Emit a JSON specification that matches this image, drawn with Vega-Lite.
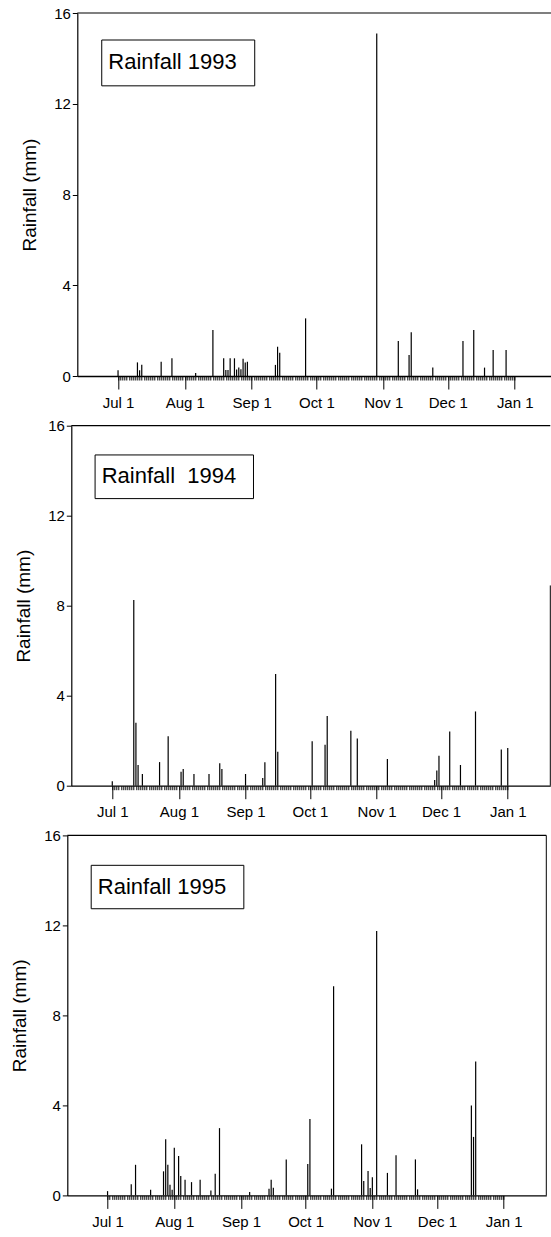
{
  "$schema": "https://vega.github.io/schema/vega-lite/v6.json",
  "padding": {"left": 9.3, "top": 6, "right": 0, "bottom": 0},
  "spacing": 8.7,
  "config": {
    "font": "Liberation Sans",
    "view": {"stroke": null},
    "axis": {
      "grid": false,
      "domainColor": "black",
      "tickColor": "black",
      "labelColor": "black",
      "titleColor": "black",
      "labelFont": "Liberation Sans",
      "titleFont": "Liberation Sans",
      "labelFontSize": 15,
      "titleFontSize": 19,
      "titleFontWeight": "normal",
      "labelFlush": false,
      "labelOverlap": false
    }
  },
  "vconcat": [
    {
      "spacing": 0,
      "hconcat": [
        {"width": 10.3, "height": 1, "data": {"values": []}, "mark": "point", "view": {"stroke": null}},
        {
          "width": 476,
          "height": 363,
          "data": {"values": [
            {"date": "1993/07/01", "rain": 0.25},
            {"date": "1993/07/10", "rain": 0.6},
            {"date": "1993/07/11", "rain": 0.25},
            {"date": "1993/07/12", "rain": 0.5},
            {"date": "1993/07/21", "rain": 0.63},
            {"date": "1993/07/26", "rain": 0.78},
            {"date": "1993/08/06", "rain": 0.13},
            {"date": "1993/08/14", "rain": 2.03},
            {"date": "1993/08/19", "rain": 0.78},
            {"date": "1993/08/20", "rain": 0.26},
            {"date": "1993/08/21", "rain": 0.26},
            {"date": "1993/08/22", "rain": 0.78},
            {"date": "1993/08/24", "rain": 0.78},
            {"date": "1993/08/25", "rain": 0.29},
            {"date": "1993/08/26", "rain": 0.37},
            {"date": "1993/08/27", "rain": 0.3},
            {"date": "1993/08/28", "rain": 0.76},
            {"date": "1993/08/29", "rain": 0.59},
            {"date": "1993/08/30", "rain": 0.63},
            {"date": "1993/09/12", "rain": 0.49},
            {"date": "1993/09/13", "rain": 1.29},
            {"date": "1993/09/14", "rain": 1.03},
            {"date": "1993/09/26", "rain": 2.54},
            {"date": "1993/10/29", "rain": 15.1},
            {"date": "1993/11/08", "rain": 1.54},
            {"date": "1993/11/13", "rain": 0.93},
            {"date": "1993/11/14", "rain": 1.93},
            {"date": "1993/11/24", "rain": 0.37},
            {"date": "1993/12/08", "rain": 1.54},
            {"date": "1993/12/13", "rain": 2.03},
            {"date": "1993/12/18", "rain": 0.37},
            {"date": "1993/12/22", "rain": 1.15},
            {"date": "1993/12/28", "rain": 1.15}
          ]},
          "layer": [
            {
              "mark": {"type": "rule", "color": "black", "strokeWidth": 1.2},
              "encoding": {
                "x": {
                  "field": "date", "type": "temporal",
                  "scale": {"domain": [{"year": 1993, "month": 6, "date": 12, "hours": 2, "minutes": 24}, {"year": 1994, "month": 1, "date": 18, "hours": 21, "minutes": 36}]},
                  "axis": {
                    "orient": "bottom", "title": null, "format": "%b %-d", "formatType": "time",
                    "values": [
                      {"year": 1993, "month": 7, "date": 1}, {"year": 1993, "month": 8, "date": 1},
                      {"year": 1993, "month": 9, "date": 1}, {"year": 1993, "month": 10, "date": 1},
                      {"year": 1993, "month": 11, "date": 1}, {"year": 1993, "month": 12, "date": 1},
                      {"year": 1994, "month": 1, "date": 1}
                    ],
                    "tickSize": 13, "tickWidth": 1, "labelPadding": 6, "domainWidth": 1.3
                  }
                },
                "y": {
                  "field": "rain", "type": "quantitative",
                  "scale": {"domain": [0, 16], "nice": false},
                  "axis": {"orient": "left", "values": [0, 4, 8, 12, 16], "tickSize": 5, "labelPadding": 2, "title": "Rainfall (mm)", "titleX": -48, "titleBaseline": "middle", "domainWidth": 1.2}
                },
                "y2": {"datum": 0}
              }
            },
            {
              "data": {"values": [{}]},
              "mark": {"type": "rule", "color": "black", "strokeWidth": 1.2},
              "encoding": {"y": {"datum": 16, "type": "quantitative", "axis": null}}
            },
            {
              "data": {"values": [{}]},
              "mark": {"type": "rect", "fill": "white", "stroke": "black", "strokeWidth": 1},
              "encoding": {
                "x": {
                  "datum": {"year": 1993, "month": 6, "date": 23, "hours": 10, "minutes": 34}, "type": "temporal",
                  "axis": {
                    "orient": "bottom", "title": null, "labels": false, "domain": false,
                    "tickCount": {"interval": "day", "step": 1}, "tickSize": 4, "tickWidth": 1,
                    "tickOpacity": {"condition": {"test": "datum.value >= datetime(1993,6,1) && datum.value <= datetime(1994,0,1)", "value": 1}, "value": 0}
                  }
                },
                "x2": {"datum": {"year": 1993, "month": 9, "date": 2, "hours": 9, "minutes": 36}},
                "y": {"datum": 14.81, "type": "quantitative", "axis": null},
                "y2": {"datum": 12.79}
              }
            },
            {
              "data": {"values": [{}]},
              "mark": {"type": "text", "align": "left", "baseline": "middle", "fontSize": 22, "font": "Liberation Sans", "color": "black", "text": "Rainfall 1993"},
              "encoding": {
                "x": {"datum": {"year": 1993, "month": 6, "date": 26, "hours": 12}, "type": "temporal", "axis": null},
                "y": {"datum": 13.83, "type": "quantitative", "axis": null}
              }
            }
          ],
          "resolve": {"axis": {"x": "independent", "y": "independent"}}
        }
      ]
    },
    {
      "spacing": 0,
      "hconcat": [
        {"width": 4.6, "height": 1, "data": {"values": []}, "mark": "point", "view": {"stroke": null}},
        {
          "width": 479,
          "height": 360,
          "data": {"values": [
            {"date": "1994/07/01", "rain": 0.2},
            {"date": "1994/07/11", "rain": 8.25},
            {"date": "1994/07/12", "rain": 2.8},
            {"date": "1994/07/13", "rain": 0.92},
            {"date": "1994/07/15", "rain": 0.52},
            {"date": "1994/07/23", "rain": 1.05},
            {"date": "1994/07/27", "rain": 2.2},
            {"date": "1994/08/02", "rain": 0.62},
            {"date": "1994/08/03", "rain": 0.74},
            {"date": "1994/08/08", "rain": 0.52},
            {"date": "1994/08/15", "rain": 0.52},
            {"date": "1994/08/20", "rain": 1.0},
            {"date": "1994/08/21", "rain": 0.74},
            {"date": "1994/09/01", "rain": 0.52},
            {"date": "1994/09/09", "rain": 0.34},
            {"date": "1994/09/10", "rain": 1.04},
            {"date": "1994/09/15", "rain": 4.96},
            {"date": "1994/09/16", "rain": 1.51},
            {"date": "1994/10/02", "rain": 1.97},
            {"date": "1994/10/08", "rain": 1.82},
            {"date": "1994/10/09", "rain": 3.1},
            {"date": "1994/10/20", "rain": 2.44},
            {"date": "1994/10/23", "rain": 2.1},
            {"date": "1994/11/06", "rain": 1.19},
            {"date": "1994/11/28", "rain": 0.25},
            {"date": "1994/11/29", "rain": 0.67},
            {"date": "1994/11/30", "rain": 1.33},
            {"date": "1994/12/05", "rain": 2.41},
            {"date": "1994/12/10", "rain": 0.92},
            {"date": "1994/12/17", "rain": 3.3},
            {"date": "1994/12/29", "rain": 1.61},
            {"date": "1995/01/01", "rain": 1.67}
          ]},
          "layer": [
            {
              "mark": {"type": "rule", "color": "black", "strokeWidth": 1.2},
              "encoding": {
                "x": {
                  "field": "date", "type": "temporal",
                  "scale": {"domain": [{"year": 1994, "month": 6, "date": 11, "hours": 22, "minutes": 19}, {"year": 1995, "month": 1, "date": 20, "hours": 19, "minutes": 12}]},
                  "axis": {
                    "orient": "bottom", "title": null, "format": "%b %-d", "formatType": "time",
                    "values": [
                      {"year": 1994, "month": 7, "date": 1}, {"year": 1994, "month": 8, "date": 1},
                      {"year": 1994, "month": 9, "date": 1}, {"year": 1994, "month": 10, "date": 1},
                      {"year": 1994, "month": 11, "date": 1}, {"year": 1994, "month": 12, "date": 1},
                      {"year": 1995, "month": 1, "date": 1}
                    ],
                    "tickSize": 13, "tickWidth": 1, "labelPadding": 6, "domainWidth": 1.3
                  }
                },
                "y": {
                  "field": "rain", "type": "quantitative",
                  "scale": {"domain": [0, 16], "nice": false},
                  "axis": {"orient": "left", "values": [0, 4, 8, 12, 16], "tickSize": 5, "labelPadding": 2, "title": "Rainfall (mm)", "titleX": -48, "titleBaseline": "middle", "domainWidth": 1.2}
                },
                "y2": {"datum": 0}
              }
            },
            {
              "data": {"values": [{}]},
              "mark": {"type": "rule", "color": "black", "strokeWidth": 1.2},
              "encoding": {"y": {"datum": 16, "type": "quantitative", "axis": null}}
            },
            {
              "data": {"values": [{}]},
              "mark": {"type": "rule", "color": "black", "strokeWidth": 1},
              "encoding": {
                "x": {"datum": {"year": 1995, "month": 1, "date": 20, "hours": 19, "minutes": 12}, "type": "temporal", "axis": null},
                "y": {"datum": 0, "type": "quantitative", "axis": null},
                "y2": {"datum": 8.9}
              }
            },
            {
              "data": {"values": [{}]},
              "mark": {"type": "rect", "fill": "white", "stroke": "black", "strokeWidth": 1},
              "encoding": {
                "x": {
                  "datum": {"year": 1994, "month": 6, "date": 23}, "type": "temporal",
                  "axis": {
                    "orient": "bottom", "title": null, "labels": false, "domain": false,
                    "tickCount": {"interval": "day", "step": 1}, "tickSize": 4, "tickWidth": 1,
                    "tickOpacity": {"condition": {"test": "datum.value >= datetime(1994,6,1) && datum.value <= datetime(1995,0,1)", "value": 1}, "value": 0}
                  }
                },
                "x2": {"datum": {"year": 1994, "month": 9, "date": 4, "hours": 16, "minutes": 48}},
                "y": {"datum": 14.7, "type": "quantitative", "axis": null},
                "y2": {"datum": 12.76}
              }
            },
            {
              "data": {"values": [{}]},
              "mark": {"type": "text", "align": "left", "baseline": "middle", "fontSize": 22, "font": "Liberation Sans", "color": "black", "text": "Rainfall\u00a0 1994"},
              "encoding": {
                "x": {"datum": {"year": 1994, "month": 6, "date": 26, "hours": 2}, "type": "temporal", "axis": null},
                "y": {"datum": 13.78, "type": "quantitative", "axis": null}
              }
            }
          ],
          "resolve": {"axis": {"x": "independent", "y": "independent"}}
        }
      ]
    },
    {
      "spacing": 0,
      "hconcat": [
        {"width": 1, "height": 1, "data": {"values": []}, "mark": "point", "view": {"stroke": null}},
        {
          "width": 479,
          "height": 360,
          "data": {"values": [
            {"date": "1995/07/01", "rain": 0.19},
            {"date": "1995/07/12", "rain": 0.49},
            {"date": "1995/07/14", "rain": 1.36},
            {"date": "1995/07/21", "rain": 0.25},
            {"date": "1995/07/27", "rain": 1.07},
            {"date": "1995/07/28", "rain": 2.49},
            {"date": "1995/07/29", "rain": 1.36},
            {"date": "1995/07/30", "rain": 0.47},
            {"date": "1995/07/31", "rain": 0.25},
            {"date": "1995/08/01", "rain": 2.12},
            {"date": "1995/08/03", "rain": 1.75},
            {"date": "1995/08/04", "rain": 0.86},
            {"date": "1995/08/06", "rain": 0.7},
            {"date": "1995/08/09", "rain": 0.59},
            {"date": "1995/08/13", "rain": 0.7},
            {"date": "1995/08/18", "rain": 0.22},
            {"date": "1995/08/20", "rain": 0.96},
            {"date": "1995/08/22", "rain": 2.99},
            {"date": "1995/09/05", "rain": 0.15},
            {"date": "1995/09/14", "rain": 0.3},
            {"date": "1995/09/15", "rain": 0.7},
            {"date": "1995/09/16", "rain": 0.34},
            {"date": "1995/09/22", "rain": 1.6},
            {"date": "1995/10/02", "rain": 1.4},
            {"date": "1995/10/03", "rain": 3.4},
            {"date": "1995/10/13", "rain": 0.3},
            {"date": "1995/10/14", "rain": 9.3},
            {"date": "1995/10/27", "rain": 2.27},
            {"date": "1995/10/28", "rain": 0.64},
            {"date": "1995/10/30", "rain": 1.08},
            {"date": "1995/10/31", "rain": 0.33},
            {"date": "1995/11/01", "rain": 0.81},
            {"date": "1995/11/03", "rain": 11.75},
            {"date": "1995/11/08", "rain": 1.0},
            {"date": "1995/11/12", "rain": 1.78},
            {"date": "1995/11/21", "rain": 1.6},
            {"date": "1995/11/22", "rain": 0.27},
            {"date": "1995/12/17", "rain": 4.0},
            {"date": "1995/12/18", "rain": 2.6},
            {"date": "1995/12/19", "rain": 5.95}
          ]},
          "layer": [
            {
              "mark": {"type": "rule", "color": "black", "strokeWidth": 1.2},
              "encoding": {
                "x": {
                  "field": "date", "type": "temporal",
                  "scale": {"domain": [{"year": 1995, "month": 6, "date": 12, "hours": 7, "minutes": 10}, {"year": 1996, "month": 1, "date": 20, "hours": 19, "minutes": 12}]},
                  "axis": {
                    "orient": "bottom", "title": null, "format": "%b %-d", "formatType": "time",
                    "values": [
                      {"year": 1995, "month": 7, "date": 1}, {"year": 1995, "month": 8, "date": 1},
                      {"year": 1995, "month": 9, "date": 1}, {"year": 1995, "month": 10, "date": 1},
                      {"year": 1995, "month": 11, "date": 1}, {"year": 1995, "month": 12, "date": 1},
                      {"year": 1996, "month": 1, "date": 1}
                    ],
                    "tickSize": 13, "tickWidth": 1, "labelPadding": 6, "domainWidth": 1.3
                  }
                },
                "y": {
                  "field": "rain", "type": "quantitative",
                  "scale": {"domain": [0, 16], "nice": false},
                  "axis": {"orient": "left", "values": [0, 4, 8, 12, 16], "tickSize": 5, "labelPadding": 2, "title": "Rainfall (mm)", "titleX": -48, "titleBaseline": "middle", "domainWidth": 1.2}
                },
                "y2": {"datum": 0}
              }
            },
            {
              "data": {"values": [{}]},
              "mark": {"type": "rule", "color": "black", "strokeWidth": 1.2},
              "encoding": {"y": {"datum": 16, "type": "quantitative", "axis": null}}
            },
            {
              "data": {"values": [{}]},
              "mark": {"type": "rule", "color": "black", "strokeWidth": 1},
              "encoding": {
                "x": {"datum": {"year": 1996, "month": 1, "date": 20, "hours": 19, "minutes": 12}, "type": "temporal", "axis": null},
                "y": {"datum": 0, "type": "quantitative", "axis": null},
                "y2": {"datum": 16}
              }
            },
            {
              "data": {"values": [{}]},
              "mark": {"type": "rect", "fill": "white", "stroke": "black", "strokeWidth": 1},
              "encoding": {
                "x": {
                  "datum": {"year": 1995, "month": 6, "date": 23, "hours": 9, "minutes": 36}, "type": "temporal",
                  "axis": {
                    "orient": "bottom", "title": null, "labels": false, "domain": false,
                    "tickCount": {"interval": "day", "step": 1}, "tickSize": 4, "tickWidth": 1,
                    "tickOpacity": {"condition": {"test": "datum.value >= datetime(1995,6,1) && datum.value <= datetime(1996,0,1)", "value": 1}, "value": 0}
                  }
                },
                "x2": {"datum": {"year": 1995, "month": 9, "date": 2, "hours": 7, "minutes": 12}},
                "y": {"datum": 14.67, "type": "quantitative", "axis": null},
                "y2": {"datum": 12.74}
              }
            },
            {
              "data": {"values": [{}]},
              "mark": {"type": "text", "align": "left", "baseline": "middle", "fontSize": 22, "font": "Liberation Sans", "color": "black", "text": "Rainfall 1995"},
              "encoding": {
                "x": {"datum": {"year": 1995, "month": 6, "date": 26, "hours": 12}, "type": "temporal", "axis": null},
                "y": {"datum": 13.72, "type": "quantitative", "axis": null}
              }
            }
          ],
          "resolve": {"axis": {"x": "independent", "y": "independent"}}
        }
      ]
    }
  ]
}
